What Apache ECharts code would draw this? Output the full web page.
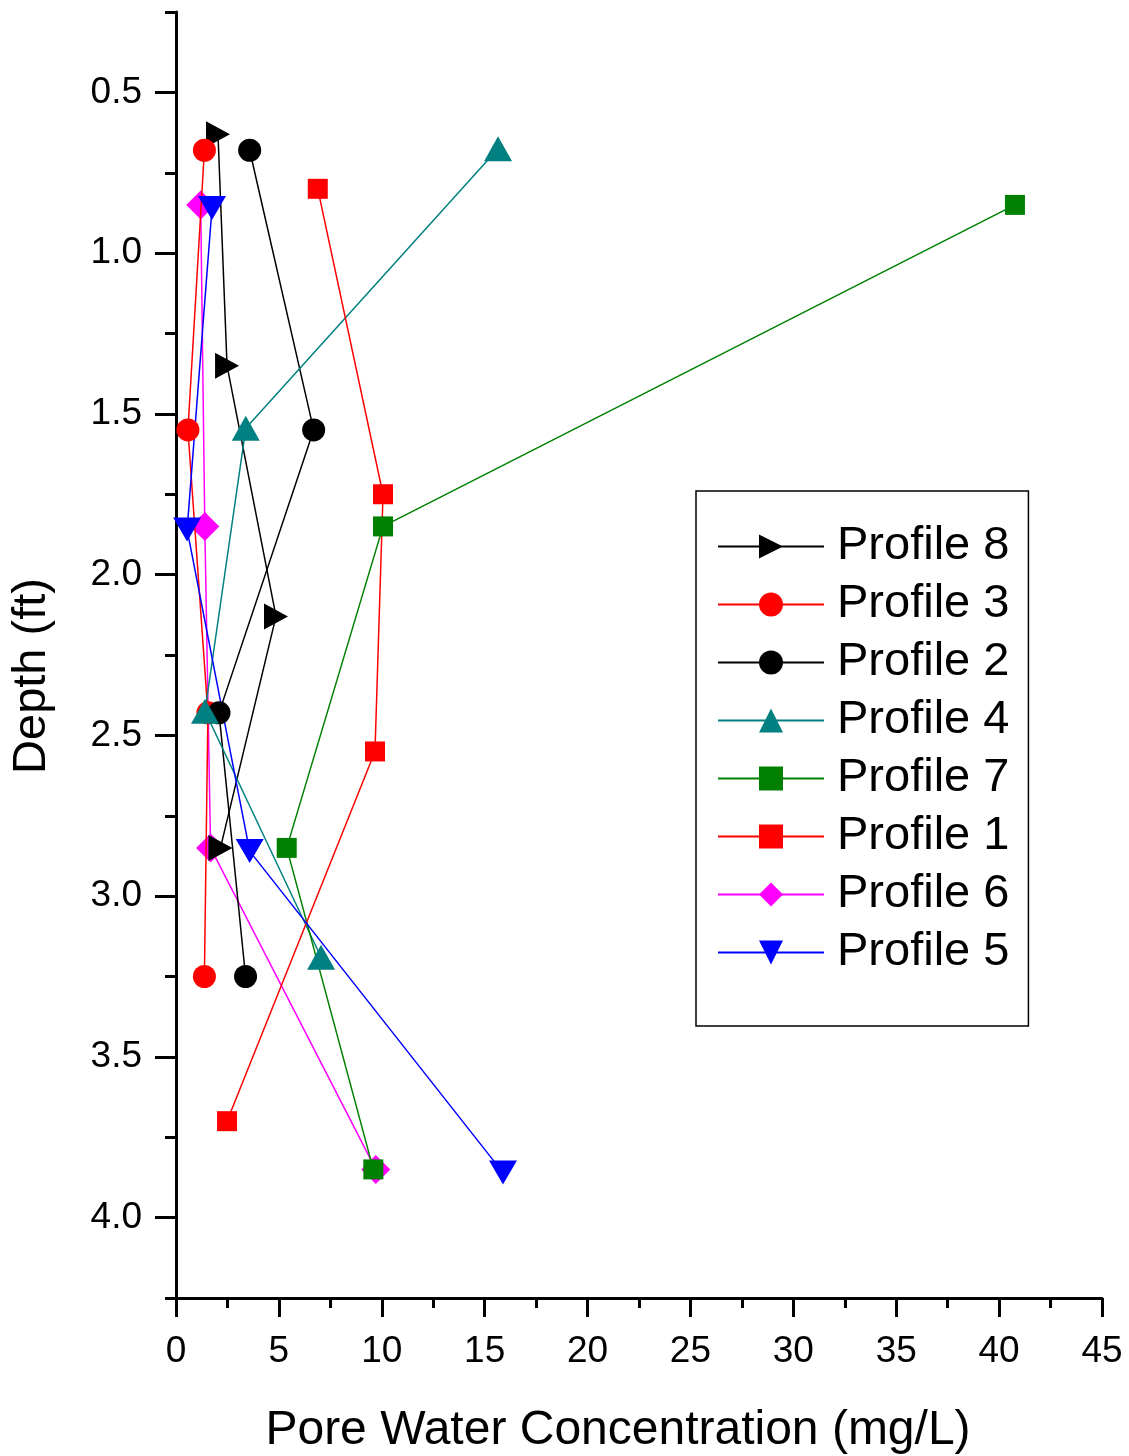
<!DOCTYPE html>
<html>
<head>
<meta charset="utf-8">
<script src="https://cdn.jsdelivr.net/npm/echarts@6/dist/echarts.min.js"></script>
<style>
  html, body { margin: 0; padding: 0; background: #fff; }
  #chart { width: 1129px; height: 1456px; }
</style>
</head>
<body>
<div id="chart"></div>
<script>
// Depth tick marks (ft)
const depthTicks = [0.5, 1.0, 1.5, 2.0, 2.5, 3.0, 3.5, 4.0];
const depthMinorTicks = [0.25, 0.75, 1.25, 1.75, 2.25, 2.75, 3.25, 3.75, 4.25];

// Pore water concentration (mg/L) and sampling depth (ft) per profile
const profile8Conc = [2.04, 2.48, 4.86, 2.16];
const profile8Depth = [0.63, 1.35, 2.13, 2.85];
const profile3Conc = [1.38, 0.58, 1.55, 1.38];
const profile3Depth = [0.68, 1.55, 2.43, 3.25];
const profile2Conc = [3.58, 6.69, 2.09, 3.38];
const profile2Depth = [0.68, 1.55, 2.43, 3.25];
const profile4Conc = [15.65, 3.39, 1.41, 7.05];
const profile4Depth = [0.675, 1.545, 2.425, 3.19];
const profile7Conc = [40.77, 10.06, 5.38, 9.59];
const profile7Depth = [0.85, 1.85, 2.85, 3.85];
const profile1Conc = [6.89, 10.06, 9.67, 2.48];
const profile1Depth = [0.80, 1.75, 2.55, 3.70];
const profile6Conc = [1.2, 1.4, 1.68, 9.71];
const profile6Depth = [0.85, 1.85, 2.85, 3.85];
const profile5Conc = [1.75, 0.54, 3.58, 15.89];
const profile5Depth = [0.86, 1.86, 2.86, 3.86];

const FONT = 'Liberation Sans, Arial, Helvetica, sans-serif';

function pairs(conc, depth) {
  return conc.map((c, i) => [c, depth[i]]);
}

function profile(name, conc, depth, color, symbol, size, rotate, z) {
  return {
    name: name,
    type: 'line',
    data: pairs(conc, depth),
    symbol: symbol,
    symbolSize: size,
    symbolRotate: rotate,
    showAllSymbol: true,
    z: z,
    lineStyle: { color: color, width: 1.5 },
    itemStyle: { color: color, opacity: 1 },
    emphasis: { disabled: true },
    animation: false
  };
}

const chart = echarts.init(document.getElementById('chart'), null, { renderer: 'canvas' });

chart.setOption({
  backgroundColor: '#ffffff',
  animation: false,
  grid: { left: 176, top: 12, right: 27, bottom: 158, containLabel: false },
  xAxis: {
    type: 'value',
    min: 0,
    max: 45,
    interval: 5,
    axisLine: { show: true, lineStyle: { color: '#000', width: 3 } },
    axisTick: { show: true, inside: false, length: 19, lineStyle: { color: '#000', width: 3 } },
    minorTick: { show: true, splitNumber: 2, length: 10, lineStyle: { color: '#000', width: 3 } },
    axisLabel: { color: '#000', fontSize: 37, fontFamily: FONT, margin: 35 },
    splitLine: { show: false },
    minorSplitLine: { show: false }
  },
  yAxis: [
    {
      type: 'value',
      inverse: true,
      min: 0.25,
      max: 4.25,
      position: 'left',
      axisLine: { show: true, lineStyle: { color: '#000', width: 3 } },
      axisTick: { show: true, inside: false, length: 21, customValues: depthTicks, lineStyle: { color: '#000', width: 3 } },
      axisLabel: {
        color: '#000', fontSize: 37, fontFamily: FONT, margin: 34,
        customValues: depthTicks,
        formatter: v => v.toFixed(1)
      },
      splitLine: { show: false }
    },
    {
      type: 'value',
      inverse: true,
      min: 0.25,
      max: 4.25,
      position: 'left',
      offset: 0,
      axisLine: { show: false },
      axisTick: { show: true, inside: false, length: 11, customValues: depthMinorTicks, lineStyle: { color: '#000', width: 3 } },
      axisLabel: { show: false },
      splitLine: { show: false }
    }
  ],
  legend: {
    orient: 'vertical',
    left: 696,
    top: 491,
    padding: [32, 19, 50, 21],
    itemGap: 11,
    itemWidth: 106,
    itemHeight: 30,
    borderColor: '#000',
    borderWidth: 1.5,
    backgroundColor: '#fff',
    selectedMode: false,
    textStyle: { color: '#000', fontSize: 47, fontFamily: FONT, padding: [0, 0, 0, 8] },
    data: ['Profile 8', 'Profile 3', 'Profile 2', 'Profile 4', 'Profile 7', 'Profile 1', 'Profile 6', 'Profile 5']
  },
  graphic: [
    {
      type: 'text',
      x: 618, y: 1431,
      style: {
        text: 'Pore Water Concentration (mg/L)',
        x: 0, y: 0,
        fill: '#000',
        font: '48px ' + FONT,
        textAlign: 'center',
        textVerticalAlign: 'middle'
      }
    },
    {
      type: 'text',
      x: 32, y: 676,
      rotation: Math.PI / 2,
      style: {
        text: 'Depth (ft)',
        x: 0, y: 0,
        fill: '#000',
        font: '47px ' + FONT,
        textAlign: 'center',
        textVerticalAlign: 'middle'
      }
    }
  ],
  series: [
    profile('Profile 8', profile8Conc, profile8Depth, '#000000', 'triangle', [26, 24], -90, 3),
    profile('Profile 3', profile3Conc, profile3Depth, '#ff0000', 'circle', 23, 0, 3),
    profile('Profile 2', profile2Conc, profile2Depth, '#000000', 'circle', 23, 0, 3),
    profile('Profile 4', profile4Conc, profile4Depth, '#008080', 'triangle', [28, 25], 0, 3),
    profile('Profile 7', profile7Conc, profile7Depth, '#008000', 'rect', 20, 0, 3),
    profile('Profile 1', profile1Conc, profile1Depth, '#ff0000', 'rect', 20, 0, 3),
    profile('Profile 6', profile6Conc, profile6Depth, '#ff00ff', 'diamond', 29, 0, 2),
    profile('Profile 5', profile5Conc, profile5Depth, '#0000ff', 'triangle', [28, 24], 180, 3)
  ]
});
</script>
</body>
</html>
